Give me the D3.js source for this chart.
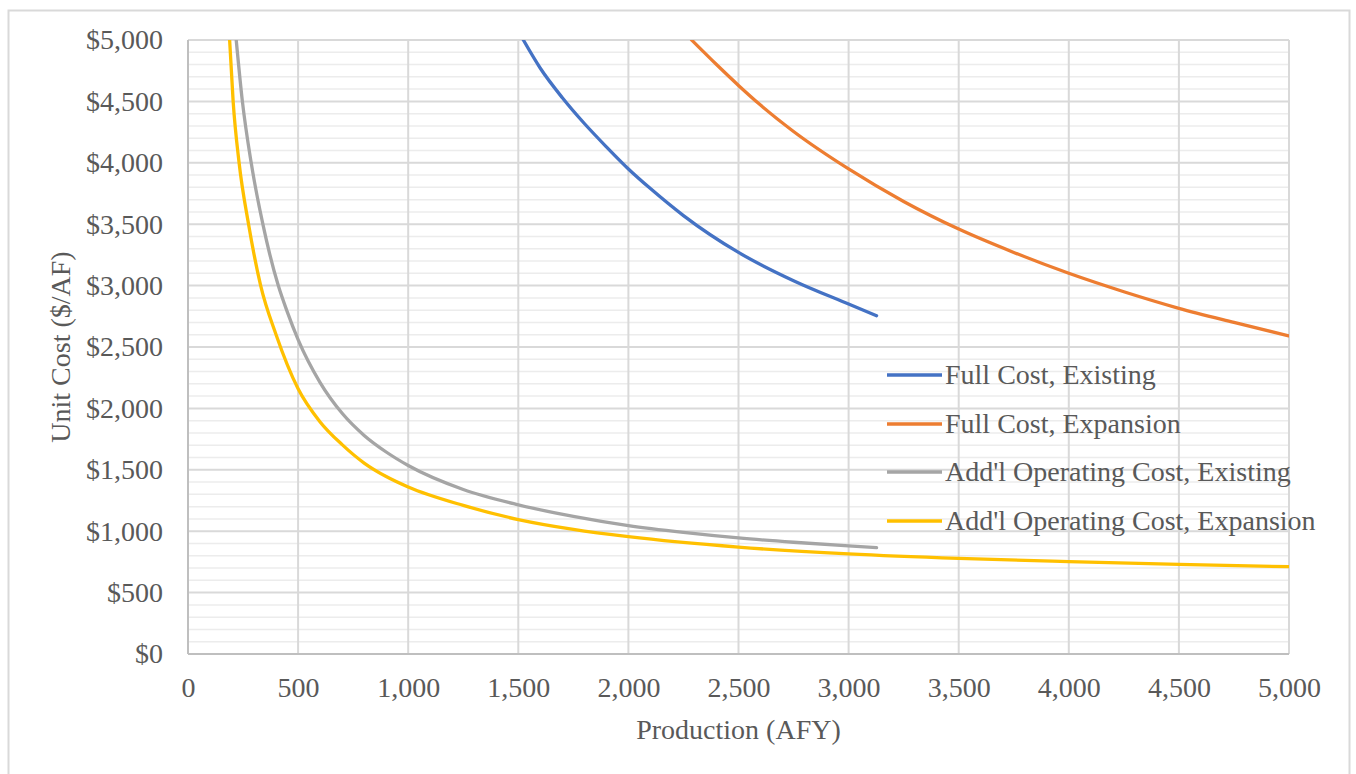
<!DOCTYPE html>
<html>
<head>
<meta charset="utf-8">
<script src="https://cdn.jsdelivr.net/npm/d3@7"></script>
<style>
  body { margin: 0; background: #fff; }
  svg { display: block; font-family: "Liberation Serif", "Times New Roman", serif; }
</style>
</head>
<body>
<svg id="chart" width="1356" height="774"></svg>
<script>
// values
var seriesNames = ["Full Cost, Existing", "Full Cost, Expansion",
    "Add'l Operating Cost, Existing", "Add'l Operating Cost, Expansion"];
var seriesColours = ["#4472C4", "#ED7D31", "#A5A5A5", "#FFC000"];

var fullExistX = [1523, 1600, 1700, 1800, 1900, 2000, 2100, 2250, 2500, 2750, 3000, 3127];
var fullExistY = [5000, 4770, 4530, 4320, 4130, 3950, 3790, 3570, 3270, 3040, 2850, 2755];

var fullExpX = [2287, 2400, 2500, 2600, 2750, 3000, 3250, 3500, 3750, 4000, 4250, 4500, 4750, 5000];
var fullExpY = [5000, 4800, 4630, 4470, 4255, 3950, 3685, 3460, 3270, 3100, 2950, 2815, 2700, 2590];

var opExistX = [219, 247, 287, 340, 410, 450, 500, 600, 700, 800, 900, 1000, 1250, 1500, 1750, 2000, 2250, 2500, 2750, 3000, 3127];
var opExistY = [5000, 4500, 4000, 3500, 3000, 2790, 2560, 2210, 1960, 1780, 1645, 1535, 1340, 1215, 1120, 1045, 990, 945, 910, 880, 866];

var opExpX = [189, 205, 232, 275, 330, 400, 500, 600, 700, 800, 900, 1000, 1250, 1500, 1750, 2000, 2500, 3000, 3500, 4000, 4500, 5000];
var opExpY = [5000, 4500, 4000, 3500, 3000, 2600, 2160, 1890, 1705, 1555, 1445, 1360, 1210, 1095, 1015, 955, 870, 815, 778, 752, 730, 711];

var xTicks = [0, 500, 1000, 1500, 2000, 2500, 3000, 3500, 4000, 4500, 5000];
var yTicks = [0, 500, 1000, 1500, 2000, 2500, 3000, 3500, 4000, 4500, 5000];
var yMinorTicks = d3.range(0, 5001, 100);

function drawChart() {
    var svg = d3.select("#chart");
    var pLeft = 188, pRight = 1289, pTop = 40, pBottom = 654;
    var textColour = "#595959";
    var fontSize = "28px";

    var x = d3.scaleLinear().domain([0, 5000]).range([pLeft, pRight]);
    var y = d3.scaleLinear().domain([0, 5000]).range([pBottom, pTop]);

    // outer chart border
    svg.append("rect")
        .attr("x", 8.5).attr("y", 10.5)
        .attr("width", 1341).attr("height", 800)
        .attr("fill", "none")
        .attr("stroke", "#d9d9d9")
        .attr("stroke-width", 2);

    // minor horizontal gridlines
    svg.append("g").selectAll("line")
        .data(yMinorTicks.filter(function (d) { return d % 500 !== 0; }))
        .enter().append("line")
        .attr("x1", pLeft).attr("x2", pRight)
        .attr("y1", function (d) { return y(d); })
        .attr("y2", function (d) { return y(d); })
        .attr("stroke", "#ececec")
        .attr("stroke-width", 1.5);

    // major gridlines
    svg.append("g").selectAll("line")
        .data(yTicks.filter(function (d) { return d > 0; }))
        .enter().append("line")
        .attr("x1", pLeft).attr("x2", pRight)
        .attr("y1", function (d) { return y(d); })
        .attr("y2", function (d) { return y(d); })
        .attr("stroke", "#d9d9d9")
        .attr("stroke-width", 2);

    svg.append("g").selectAll("line")
        .data(xTicks.filter(function (d) { return d > 0; }))
        .enter().append("line")
        .attr("x1", function (d) { return x(d); })
        .attr("x2", function (d) { return x(d); })
        .attr("y1", pTop).attr("y2", pBottom)
        .attr("stroke", "#d9d9d9")
        .attr("stroke-width", 2);

    // axis lines
    svg.append("line")
        .attr("x1", pLeft).attr("x2", pLeft).attr("y1", pTop).attr("y2", pBottom)
        .attr("stroke", "#bfbfbf").attr("stroke-width", 2);
    svg.append("line")
        .attr("x1", pLeft).attr("x2", pRight).attr("y1", pBottom).attr("y2", pBottom)
        .attr("stroke", "#bfbfbf").attr("stroke-width", 2);

    // axes (labels only)
    var yAxis = svg.append("g")
        .attr("transform", "translate(" + pLeft + ",0)")
        .call(d3.axisLeft(y).tickValues(yTicks).tickSize(0).tickPadding(25).tickFormat(d3.format("$,")));
    yAxis.select(".domain").remove();
    yAxis.selectAll("text")
        .attr("dy", "0.32em")
        .style("font-family", "Liberation Serif, Times New Roman, serif")
        .style("font-size", fontSize)
        .style("fill", textColour);

    var xAxis = svg.append("g")
        .attr("transform", "translate(0," + pBottom + ")")
        .call(d3.axisBottom(x).tickValues(xTicks).tickSize(0).tickFormat(d3.format(",")));
    xAxis.select(".domain").remove();
    xAxis.selectAll("text")
        .attr("y", 43).attr("dy", 0)
        .style("font-family", "Liberation Serif, Times New Roman, serif")
        .style("font-size", fontSize)
        .style("fill", textColour);

    // axis titles
    svg.append("text")
        .attr("x", (pLeft + pRight) / 2).attr("y", 739)
        .attr("text-anchor", "middle")
        .style("font-size", fontSize)
        .style("fill", textColour)
        .text("Production (AFY)");

    svg.append("text")
        .attr("transform", "translate(70," + (pTop + pBottom) / 2 + ") rotate(-90)")
        .attr("text-anchor", "middle")
        .style("font-size", fontSize)
        .style("fill", textColour)
        .text("Unit Cost ($/AF)");

    // series
    svg.append("clipPath").attr("id", "plotClip")
        .append("rect").attr("x", pLeft).attr("y", pTop)
        .attr("width", pRight - pLeft).attr("height", pBottom - pTop);

    var series = [
        [fullExistX, fullExistY],
        [fullExpX, fullExpY],
        [opExistX, opExistY],
        [opExpX, opExpY]
    ];

    var line = d3.line()
        .x(function (d) { return x(d[0]); })
        .y(function (d) { return y(d[1]); })
        .curve(d3.curveMonotoneX);

    var lines = svg.append("g").attr("clip-path", "url(#plotClip)");
    series.forEach(function (s, i) {
        var pts = s[0].map(function (v, j) { return [v, s[1][j]]; });
        lines.append("path")
            .attr("d", line(pts))
            .attr("fill", "none")
            .attr("stroke", seriesColours[i])
            .attr("stroke-width", 3.3)
            .attr("stroke-linecap", "round");
    });

    // legend
    var legendY = [375, 424, 472, 521];
    var legend = svg.append("g");
    seriesNames.forEach(function (name, i) {
        legend.append("line")
            .attr("x1", 887).attr("x2", 942)
            .attr("y1", legendY[i]).attr("y2", legendY[i])
            .attr("stroke", seriesColours[i])
            .attr("stroke-width", 3.3);
        legend.append("text")
            .attr("x", 945).attr("y", legendY[i] + 9)
            .style("font-size", fontSize)
            .style("fill", textColour)
            .text(name);
    });
}

drawChart();
</script>
</body>
</html>
